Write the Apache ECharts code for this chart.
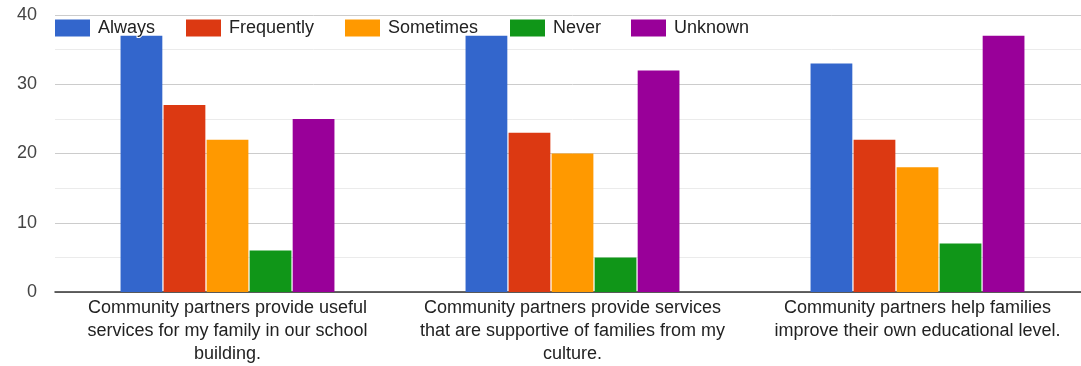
<!DOCTYPE html>
<html><head><meta charset="utf-8">
<script src="https://cdn.jsdelivr.net/npm/echarts@6/dist/echarts.min.js"></script>
<style>html,body{margin:0;padding:0;background:#fff;overflow:hidden}#c{width:1090px;height:366px}</style>
</head><body><div id="c"></div>
<script>
var categories = [
  "Community partners provide useful\nservices for my family in our school\nbuilding.",
  "Community partners provide services\nthat are supportive of families from my\nculture.",
  "Community partners help families\nimprove their own educational level."
];
var seriesNames = ["Always", "Frequently", "Sometimes", "Never", "Unknown"];
var always = [37, 37, 33];
var frequently = [27, 23, 22];
var sometimes = [22, 20, 18];
var never = [6, 5, 7];
var unknown = [25, 32, 37];
var yTicks = [0, 10, 20, 30, 40];

var values = [always, frequently, sometimes, never, unknown];
var colors = ["#3366cc", "#dc3912", "#ff9900", "#109618", "#990099"];
var legendLeft = [55, 186, 345, 510, 631];
var font = "Arial, 'Liberation Sans', sans-serif";

var chart = echarts.init(document.getElementById('c'));
chart.setOption({
  animation: false,
  color: colors,
  legend: seriesNames.map(function (n, i) {
    return {
      data: [n], left: legendLeft[i], top: 18, padding: 0,
      itemWidth: 35, itemHeight: 17, icon: 'rect',
      textStyle: { fontFamily: font, fontSize: 18, color: '#222', padding: [0, 0, 0, 3],
                   textBorderColor: '#fff', textBorderWidth: 2 },
      z: 10
    };
  }),
  grid: { left: 55, right: 0, top: 15, bottom: 74, containLabel: false },
  xAxis: {
    type: 'category', data: categories,
    axisLine: { lineStyle: { color: '#333', width: 1.5 } },
    axisTick: { show: false },
    axisLabel: { fontFamily: font, fontSize: 18, color: '#222', lineHeight: 23, margin: 5, interval: 0 }
  },
  yAxis: {
    type: 'value', min: yTicks[0], max: yTicks[yTicks.length - 1], interval: 10,
    axisLine: { show: false }, axisTick: { show: false },
    axisLabel: { fontFamily: font, fontSize: 18, color: '#444', margin: 18 },
    splitLine: { lineStyle: { color: '#cccccc', width: 1 } },
    minorTick: { show: false, splitNumber: 2 },
    minorSplitLine: { show: true, lineStyle: { color: '#ebebeb', width: 1 } }
  },
  series: seriesNames.map(function (n, i) {
    return {
      name: n, type: 'bar', data: values[i],
      barGap: '3%', barCategoryGap: '38%',
      itemStyle: { color: colors[i] }
    };
  })
});
</script></body></html>
